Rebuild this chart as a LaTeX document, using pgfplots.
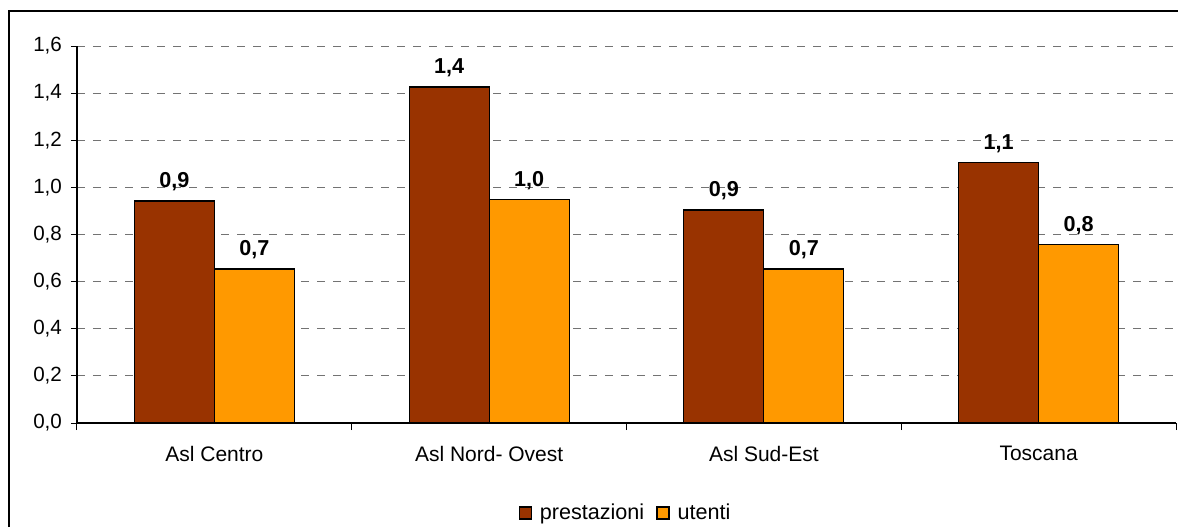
\documentclass[border=0pt]{standalone}
\usepackage{pgfplots}
\pgfplotsset{compat=1.18}
\usepackage{fontspec}
\setmainfont{Liberation Sans}
\definecolor{prest}{HTML}{993300}
\definecolor{uten}{HTML}{FF9900}
\begin{document}
\begin{tikzpicture}
\useasboundingbox (0,0) rectangle (589pt,263.5pt);
\draw[line width=0.6pt] (4.5pt,0) -- (4.5pt,258pt) -- (589pt,258pt);
\begin{axis}[
  at={(38.5pt,52pt)}, anchor=south west,
  width=549.5pt, height=188.5pt, scale only axis,
  xmin=-0.5, xmax=3.5, ymin=0, ymax=1.6,
  axis x line*=bottom, axis y line*=left,
  axis line style={line width=0.6pt},
  ybar=0pt, bar width=40pt,
  xtick={0,1,2,3},
  xticklabels={Asl Centro, Asl Nord- Ovest, Asl Sud-Est, Toscana},
  major x tick style={draw=none},
  minor xtick={-0.5,0.5,1.5,2.5,3.5},
  minor x tick style={line width=0.5pt, black},
  minor tick length=3.5pt,
  ytick={0,0.2,...,1.6},
  tick align=outside,
  major tick length=3pt,
  y tick style={line width=0.5pt, black},
  ymajorgrids,
  grid style={dash pattern=on 4pt off 4pt, gray!90!black, line width=0.5pt},
  ticklabel style={font=\fontsize{10.3}{12}\selectfont},
  yticklabel style={xshift=-1pt, /pgf/number format/.cd, use comma, fixed, fixed zerofill, precision=1, assume math mode=true},
  xticklabel style={font=\fontsize{10.5}{12}\selectfont, yshift=-5pt},
  nodes near coords,
  point meta=explicit symbolic,
  every node near coord/.append style={font=\bfseries\fontsize{10.8}{12}\selectfont, yshift=1.5pt},
  legend columns=2,
  legend style={draw=none, at={(0.5,0)}, anchor=center, yshift=-45pt, font=\fontsize{10.8}{12}\selectfont, /tikz/every odd column/.append style={column sep=2pt}, /tikz/every even column/.append style={column sep=4pt}},
  legend image code/.code={\draw[#1,draw=black,line width=0.6pt] (0pt,-3pt) rectangle (6pt,3pt);},
]
\addplot[fill=prest, draw=black, line width=0.6pt] table[meta=lab] {
x y lab
0 0.942 0,9
1 1.426 1,4
2 0.904 0,9
3 1.104 1,1
};
\addplot[fill=uten, draw=black, line width=0.6pt] table[meta=lab] {
x y lab
0 0.654 0,7
1 0.947 1,0
2 0.654 0,7
3 0.756 0,8
};
\legend{prestazioni, utenti}
\end{axis}
\end{tikzpicture}
\end{document}
